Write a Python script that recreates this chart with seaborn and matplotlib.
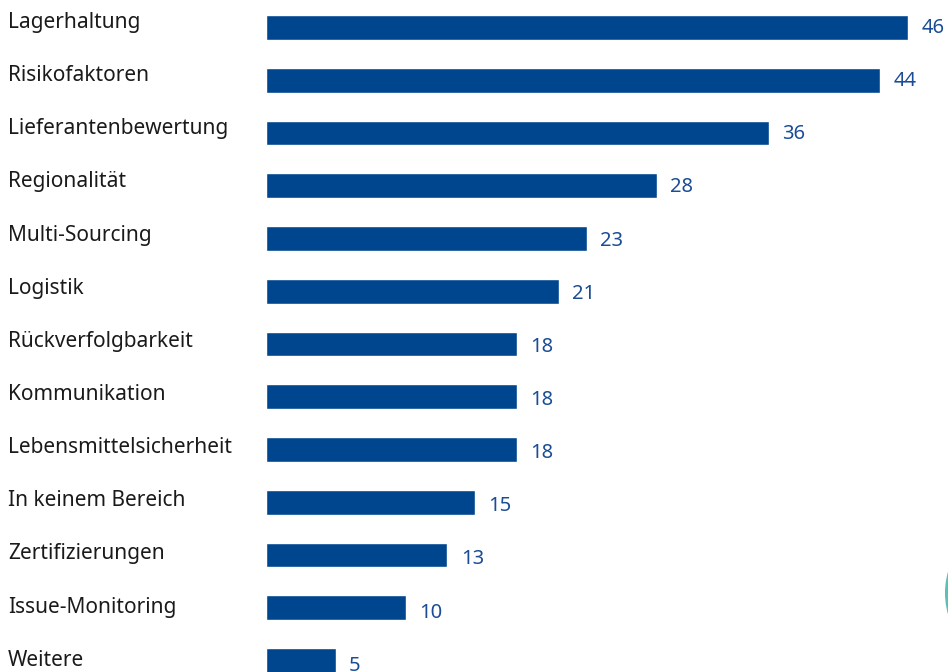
import matplotlib
matplotlib.use("Agg")
import matplotlib.pyplot as plt
import matplotlib.transforms as mtransforms
from matplotlib.patches import Circle
import seaborn as sns
import pandas as pd

categories = ["Lagerhaltung", "Risikofaktoren", "Lieferantenbewertung", "Regionalität",
              "Multi-Sourcing", "Logistik", "Rückverfolgbarkeit", "Kommunikation",
              "Lebensmittelsicherheit", "In keinem Bereich", "Zertifizierungen",
              "Issue-Monitoring", "Weitere"]
values = [46, 44, 36, 28, 23, 21, 18, 18, 18, 15, 13, 10, 5]

bar_color = "#00468f"
num_color = "#1b4d95"
text_color = "#1a1a1a"

sns.set_theme(style="white")
plt.rcParams['font.family'] = ['Noto Sans', 'DejaVu Sans']

df = pd.DataFrame({"cat": categories, "val": values})

fig = plt.figure(figsize=(9.48, 6.72), dpi=100)
W, H = 948, 672
ax = fig.add_axes([266 / W, 0, (48 * 13.96) / W, 1])
sns.barplot(data=df, x="val", y="cat", orient="h", color=bar_color, width=0.465,
            saturation=1, ax=ax)
step = 52.75
ax.set_xlim(0, 48)
ax.set_ylim((H - 27.5) / step, -27.5 / step)
ax.axis("off")

text_step = 53.15
num_tr = mtransforms.offset_copy(
    mtransforms.blended_transform_factory(ax.transData, fig.transFigure),
    fig=fig, x=9.5, y=0, units="points")
for i, (c, v) in enumerate(zip(categories, values)):
    fig.text(8 / W, 1 - (28 + text_step * i) / H, c, ha="left", va="baseline",
             fontsize=15, color=text_color)
    ax.text(v, 1 - (33 + text_step * i) / H, str(v), transform=num_tr,
            ha="left", va="baseline", fontsize=14.5, color=num_color)

circ = Circle((1023, H - 593), 78, transform=None, facecolor="#5cc0b5",
              edgecolor="none")
fig.patches.append(circ)

fig.savefig("out.png", dpi=100)
